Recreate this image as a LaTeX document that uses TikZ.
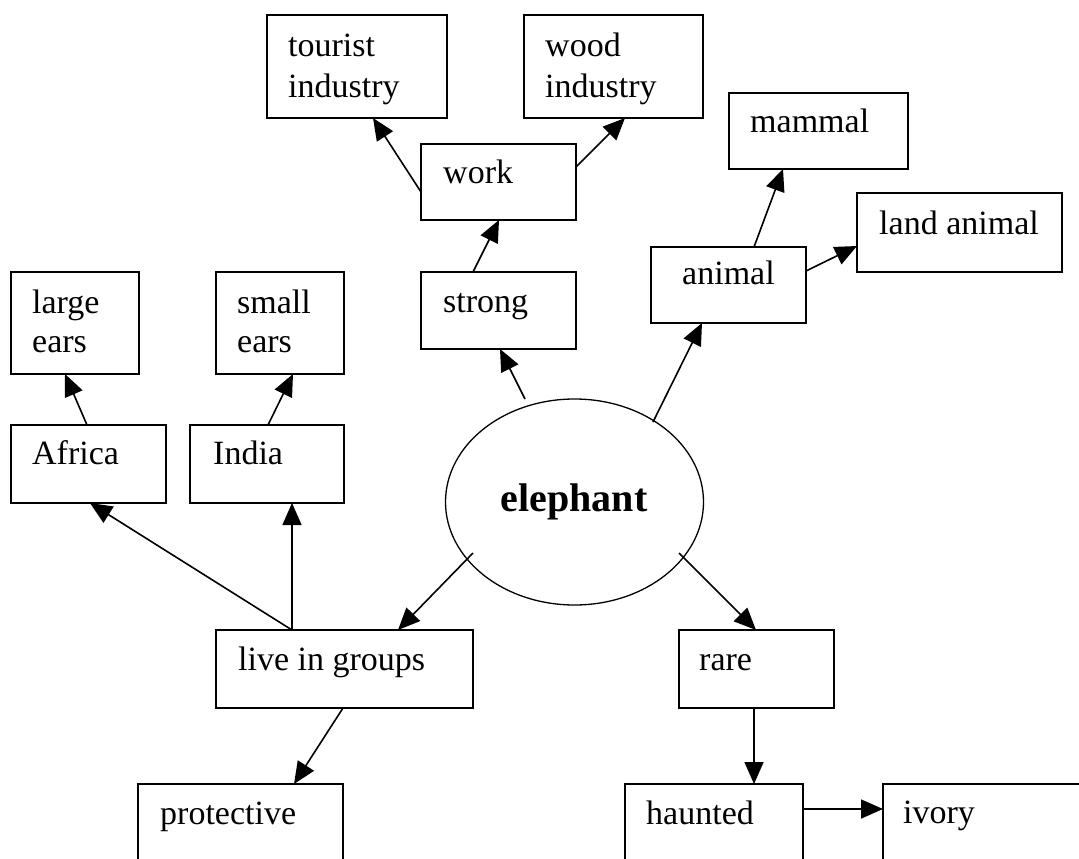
\documentclass[tikz,border=0pt]{standalone}
\usepackage{fontspec}
\setmainfont{Liberation Serif}
\usetikzlibrary{arrows.meta,shapes.geometric}

\tikzset{
  box/.style={draw=black, line width=1.5pt, fill=white, rectangle,
              inner sep=0pt, outer sep=0pt, anchor=north west},
  txt/.style={anchor=base west, inner sep=0pt, font=\fontsize{34}{39}\selectfont},
  hub/.style={draw=black, line width=1.3pt, fill=white, ellipse,
              inner sep=0pt, outer sep=0pt},
  arr/.style={line width=1.6pt, -{Triangle[length=22pt,width=19pt]}},
}

% place a box by its corners (left, top, right, bottom), in pixels
\newcommand\placebox[5]{%
  \node[box, minimum width={(#4)-(#2)}, minimum height={(#5)-(#3)}] (#1) at (#2,#3) {};}

\begin{document}
\begin{tikzpicture}[x=1pt, y=-1pt]
\useasboundingbox (0,0) rectangle (1079,859);
\clip (0,0) rectangle (1079,859);

% centre of the map
\node[hub, minimum width=258pt, minimum height=206pt] (elephant) at (574.5,502) {};

% start points of the connectors leaving the ellipse
\coordinate (e-strong) at ([shift={(-49.5pt,103pt)}]elephant.center);
\coordinate (e-animal) at ([shift={(78.5pt,80pt)}]elephant.center);
\coordinate (e-live)   at ([shift={(-101.5pt,-51pt)}]elephant.center);
\coordinate (e-rare)   at ([shift={(104.5pt,-51pt)}]elephant.center);

\placebox{tourist}{267}{15}{447}{118}
\placebox{wood}{524}{15}{703}{118}
\placebox{work}{421}{144}{576}{220}
\placebox{strong}{421}{272}{576}{349}
\placebox{mammal}{729}{93}{908}{169}
\placebox{land}{857}{193}{1062}{272}
\placebox{animal}{651}{247}{806}{323}
\placebox{large}{11}{272}{139}{374}
\placebox{small}{216}{272}{344}{374}
\placebox{africa}{11}{425}{166}{503}
\placebox{india}{190}{425}{344}{503}
\placebox{live}{216}{630}{473}{708}
\placebox{rare}{679}{630}{834}{708}
\placebox{protective}{138}{784}{343}{900}
\placebox{haunted}{625}{784}{803}{900}
\placebox{ivory}{883}{784}{1140}{900}

% arrows
\draw[arr] ([yshift=-10pt]work.west) -- ([xshift=106pt]tourist.south west);
\draw[arr] ([yshift=15pt]work.east) -- ([xshift=101pt]wood.south west);
\draw[arr] ([xshift=52pt]strong.north west) -- ([xshift=78pt]work.south west);
\draw[arr] (e-strong) -- ([xshift=79pt]strong.south west);
\draw[arr] (e-animal) -- ([xshift=51pt]animal.south west);
\draw[arr] ([xshift=103pt]animal.north west) -- ([xshift=54pt]mammal.south west);
\draw[arr] ([yshift=14pt]animal.east) -- ([yshift=-13.5pt]land.west);
\draw[arr] ([xshift=76pt]africa.north west) -- ([xshift=54pt]large.south west);
\draw[arr] ([xshift=78pt]india.north west) -- ([xshift=77pt]small.south west);
\draw[arr] ([xshift=76pt]live.north west) -- ([xshift=79pt]africa.south west);
\draw[arr] ([xshift=76pt]live.north west) -- ([xshift=102pt]india.south west);
\draw[arr] (e-live) -- ([xshift=182pt]live.north west);
\draw[arr] (e-rare) -- ([xshift=77pt]rare.north west);
\draw[arr] ([xshift=127pt]live.south west) -- ([xshift=156pt]protective.north west);
\draw[arr] ([xshift=75pt]rare.south west) -- ([xshift=129pt]haunted.north west);
\draw[arr] ([yshift=-25pt]haunted.north east) -- ([yshift=-25pt]ivory.north west);

% labels
\node[txt] (t-tourist) at (288,57) {tourist};
\node[txt] (t-tourist2) at (288,97) {industry};
\node[txt] (t-wood) at (545,57) {wood};
\node[txt] (t-wood2) at (545,97) {industry};
\node[txt] (t-work) at (443,183) {work};
\node[txt] (t-strong) at (443,312) {strong};
\node[txt] (t-mammal) at (750,132) {mammal};
\node[txt] (t-land) at (879,234) {land animal};
\node[txt] (t-animal) at (682,284) {animal};
\node[txt] (t-large) at (32,313) {large};
\node[txt] (t-large2) at (32,352) {ears};
\node[txt] (t-small) at (237,313) {small};
\node[txt] (t-small2) at (237,352) {ears};
\node[txt] (t-africa) at (32,464) {Africa};
\node[txt] (t-india) at (213,464) {India};
\node[txt] (t-live) at (238,670) {live in groups};
\node[txt] (t-rare) at (699,670) {rare};
\node[txt] (t-protective) at (160,824) {protective};
\node[txt] (t-haunted) at (646,824) {haunted};
\node[txt] (t-ivory) at (903,823) {ivory};
\node[anchor=base, inner sep=0pt, font=\fontsize{40}{46}\selectfont\bfseries]
  (t-elephant) at (574,511) {elephant};
\end{tikzpicture}
\end{document}
